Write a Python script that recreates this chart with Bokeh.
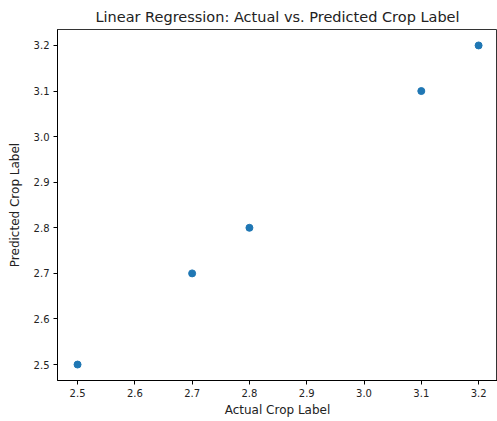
from bokeh.plotting import figure
from bokeh.models import Range1d, FixedTicker
from bokeh.embed import file_html
from bokeh.resources import INLINE

actual = [2.5, 2.7, 2.8, 3.1, 3.2]
predicted = [2.5, 2.7, 2.8, 3.1, 3.2]
x_ticks = [2.5, 2.6, 2.7, 2.8, 2.9, 3.0, 3.1, 3.2]
y_ticks = [2.5, 2.6, 2.7, 2.8, 2.9, 3.0, 3.1, 3.2]

FONT = "DejaVu Sans"

p = figure(width=497, height=421, output_backend="svg", toolbar_location=None,
           x_range=Range1d(2.465, 3.233), y_range=Range1d(2.465, 3.235),
           min_border_left=57, min_border_right=0, min_border_top=29, min_border_bottom=41,
           title="Linear Regression: Actual vs. Predicted Crop Label")

p.title.align = "center"
p.title.text_font = FONT
p.title.text_font_size = "14.5px"
p.title.text_font_style = "normal"
p.title.text_color = "#222222"
p.title.offset = 0
p.title.standoff = 10

p.scatter(actual, predicted, size=7, color="#1f77b4", line_color="#1f77b4")

p.xgrid.visible = False
p.ygrid.visible = False
p.outline_line_color = "black"
p.outline_line_width = 1
p.outline_line_alpha = 0.8
p.background_fill_color = "white"
p.border_fill_color = "white"

for ax, ticks in ((p.xaxis[0], x_ticks), (p.yaxis[0], y_ticks)):
    ax.ticker = FixedTicker(ticks=ticks)
    ax.major_label_overrides = {t: f"{t:.1f}" for t in ticks}
    ax.minor_tick_line_color = None
    ax.major_tick_in = 0
    ax.major_tick_out = 4
    ax.major_tick_line_color = "black"
    ax.axis_line_color = "black"
    ax.major_label_text_font = FONT
    ax.major_label_text_font_size = "10px"
    ax.major_label_text_color = "#222222"
    ax.major_label_standoff = 4
    ax.axis_label_text_font = FONT
    ax.axis_label_text_font_size = "12px"
    ax.axis_label_text_font_style = "normal"
    ax.axis_label_text_color = "#222222"

p.xaxis[0].axis_label_standoff = 3
p.yaxis[0].axis_label_standoff = 9
p.xaxis.axis_label = "Actual Crop Label"
p.yaxis.axis_label = "Predicted Crop Label"

open("out.html", "w").write(file_html(p, INLINE))
